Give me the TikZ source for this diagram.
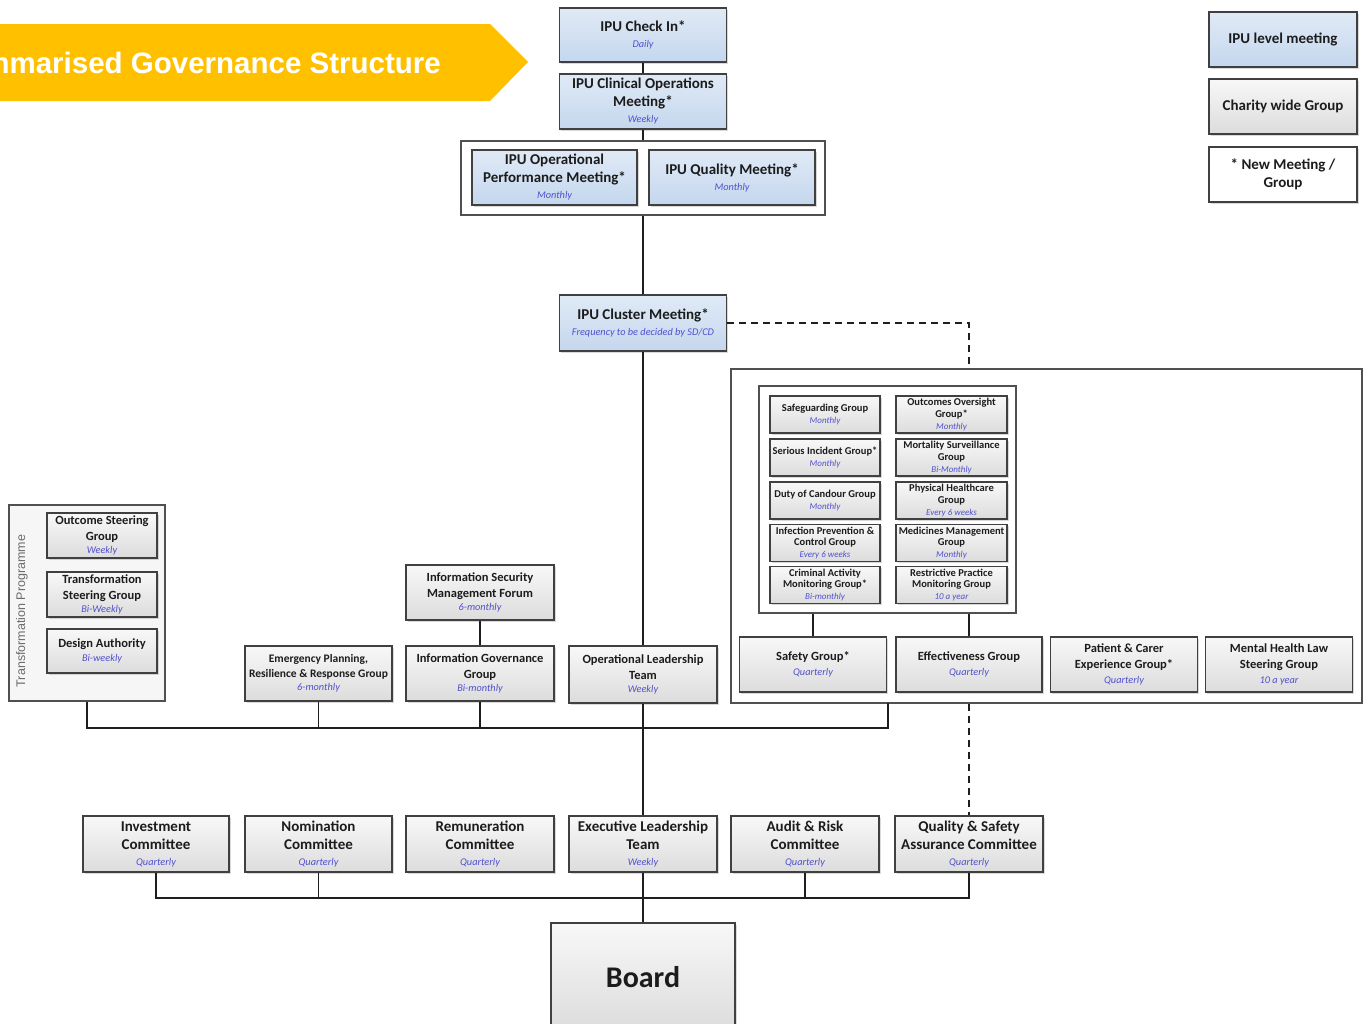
\documentclass[tikz,border=0pt]{standalone}
\usepackage{fontspec}
\setmainfont{Carlito}
\newfontfamily\arialf{Liberation Sans}
\usetikzlibrary{shadows}
\definecolor{ipuT}{RGB}{224,234,246}
\definecolor{ipuB}{RGB}{196,215,238}
\definecolor{cwT}{RGB}{248,248,248}
\definecolor{cwB}{RGB}{220,220,220}
\definecolor{boxline}{RGB}{64,64,64}
\definecolor{frameline}{RGB}{80,80,80}
\definecolor{linec}{RGB}{30,30,30}
\definecolor{txt}{RGB}{28,28,28}
\definecolor{freqc}{RGB}{80,80,205}
\definecolor{banner}{RGB}{255,192,0}
\definecolor{tpfill}{RGB}{246,246,246}
\newcommand\fq[1]{{\mdseries\itshape\fontsize{10.3}{11}\selectfont\color{freqc}#1}}
\newcommand\fqs[1]{{\mdseries\itshape\fontsize{9}{9.5}\selectfont\color{freqc}#1}}
\tikzset{
  base/.style={draw=boxline, line width=1.3pt, rectangle, align=center, inner sep=0pt,
    text=txt, font=\bfseries\fontsize{15}{18}\selectfont,
    drop shadow={shadow xshift=1.5pt, shadow yshift=-1.5pt, opacity=0.3, fill=gray}},
  ipu/.style={base, top color=ipuT, bottom color=ipuB},
  cw/.style={base, top color=cwT, bottom color=cwB},
  newg/.style={base, fill=white},
  midf/.style={font=\bfseries\fontsize{12.5}{15.5}\selectfont},
  smlf/.style={font=\bfseries\fontsize{10.5}{11.8}\selectfont},
  frame/.style={draw=frameline, line width=1.3pt, fill=white, rectangle, inner sep=0pt},
  link/.style={draw=linec, line width=1.5pt},
  dlink/.style={link, dash pattern=on 7pt off 5pt},
  sbox/.style={cw, smlf, minimum width=110, minimum height=37},
  mbox/.style={cw, midf, minimum width=147, minimum height=55},
  tbox/.style={cw, midf, minimum width=110, minimum height=45},
  bbox/.style={cw, minimum width=147, minimum height=56},
}
\begin{document}
\begin{tikzpicture}[x=1pt,y=-1pt]
\useasboundingbox (0,0) rectangle (1370,1023);
\clip (0,0) rectangle (1370,1023);

% title banner
\fill[banner] (-10,24) -- (490,24) -- (528,62) -- (490,101) -- (-10,101) -- cycle;
\node[anchor=base east, text=white, font=\arialf\bfseries\fontsize{29.5}{34}\selectfont, inner sep=0pt] (title) at (441,73) {Summarised Governance Structure};

% legend
\node[ipu, minimum width=148, minimum height=55] (lg1) at (1283,39.5) {IPU level meeting};
\node[cw, minimum width=148, minimum height=55] (lg2) at (1283,106.5) {Charity wide Group};
\node[newg, minimum width=148, minimum height=55] (lg3) at (1283,174.5) {* New Meeting /\\Group};

% IPU chain
\node[ipu, minimum width=167, minimum height=54] (ck) at (643,35) {IPU Check In*\\[-2pt]\fq{Daily}};
\node[ipu, minimum width=167, minimum height=55] (cop) at (643,101.5) {IPU Clinical Operations\\Meeting*\\[-2pt]\fq{Weekly}};
\node[frame, minimum width=364, minimum height=74] (tc) at (643,178) {};
\node[ipu, minimum width=165, minimum height=55] (opm) at (554.5,177.5) {IPU Operational\\Performance Meeting*\\[-2pt]\fq{Monthly}};
\node[ipu, minimum width=166, minimum height=55] (qm) at (732,177.5) {IPU Quality Meeting*\\[-2pt]\fq{Monthly}};
\node[ipu, minimum width=167, minimum height=56] (cl) at (643,323) {IPU Cluster Meeting*\\[-2pt]\fq{Frequency to be decided by SD/CD}};

% quality container
\node[frame, minimum width=631, minimum height=334] (qc) at (1046.5,536) {};
\node[frame, minimum width=257, minimum height=227] (ic) at (887.5,499.5) {};
\node[sbox] (sg)  at (825,414.5) {Safeguarding Group\\\fqs{Monthly}};
\node[sbox] (sig) at (825,457.5) {Serious Incident Group*\\\fqs{Monthly}};
\node[sbox] (dc)  at (825,500.5) {Duty of Candour Group\\\fqs{Monthly}};
\node[sbox] (ipc) at (825,543) {Infection Prevention \&\\Control Group\\\fqs{Every 6 weeks}};
\node[sbox] (cam) at (825,585) {Criminal Activity\\Monitoring Group*\\\fqs{Bi-monthly}};
\node[sbox, minimum width=111] (oog) at (951.5,414.5) {Outcomes Oversight\\Group*\\\fqs{Monthly}};
\node[sbox, minimum width=111] (msg) at (951.5,457.5) {Mortality Surveillance\\Group\\\fqs{Bi-Monthly}};
\node[sbox, minimum width=111] (phg) at (951.5,500.5) {Physical Healthcare\\Group\\\fqs{Every 6 weeks}};
\node[sbox, minimum width=111] (mmg) at (951.5,543) {Medicines Management\\Group\\\fqs{Monthly}};
\node[sbox, minimum width=111] (rpm) at (951.5,585) {Restrictive Practice\\Monitoring Group\\\fqs{10 a year}};
\node[mbox] (saf) at (813,664.5) {Safety Group*\\\fq{Quarterly}};
\node[mbox, minimum width=146] (eff) at (969,664.5) {Effectiveness Group\\\fq{Quarterly}};
\node[mbox] (pce) at (1124,664.5) {Patient \& Carer\\Experience Group*\\\fq{Quarterly}};
\node[mbox] (mhl) at (1279,664.5) {Mental Health Law\\Steering Group\\\fq{10 a year}};
\coordinate (qcb) at (888,703);

% transformation programme
\node[frame, fill=tpfill, minimum width=156, minimum height=196] (tp) at (87,603) {};
\node[rotate=90, font=\arialf\fontsize{12.5}{14}\selectfont, text=gray!85!black, inner sep=0pt] (tpl) at (22,611) {Transformation Programme};
\node[tbox] (osg) at (102,535.5) {Outcome Steering\\Group\\[-2pt]\fq{Weekly}};
\node[tbox] (tsg) at (102,594.5) {Transformation\\Steering Group\\[-2pt]\fq{Bi-Weekly}};
\node[tbox, minimum height=44] (da) at (102,651) {Design Authority\\[-2pt]\fq{Bi-weekly}};

% middle groups
\node[mbox, minimum width=148] (ismf) at (480,592.5) {Information Security\\Management Forum\\[-2pt]\fq{6-monthly}};
\node[mbox, font=\bfseries\fontsize{11.5}{15}\selectfont] (eprr) at (318.5,673.5) {Emergency Planning,\\Resilience \& Response Group\\[-2pt]\fq{6-monthly}};
\node[mbox, minimum width=148] (igg) at (480,673.5) {Information Governance\\Group\\[-2pt]\fq{Bi-monthly}};
\node[mbox, minimum width=148, minimum height=57] (olt) at (643,674.5) {Operational Leadership\\Team\\[-2pt]\fq{Weekly}};

% bottom committees
\node[bbox, minimum width=146] (inv) at (156,844) {Investment\\Committee\\[-2pt]\fq{Quarterly}};
\node[bbox] (nom) at (318.5,844) {Nomination\\Committee\\[-2pt]\fq{Quarterly}};
\node[bbox, minimum width=148] (rem) at (480,844) {Remuneration\\Committee\\[-2pt]\fq{Quarterly}};
\node[bbox, minimum width=148] (elt) at (643,844) {Executive Leadership\\Team\\[-2pt]\fq{Weekly}};
\node[bbox, minimum width=148] (ar) at (805,844) {Audit \& Risk\\Committee\\[-2pt]\fq{Quarterly}};
\node[bbox, minimum width=148] (qs) at (969,844) {Quality \& Safety\\Assurance Committee\\[-2pt]\fq{Quarterly}};
\node[cw, minimum width=184, minimum height=108, font=\bfseries\fontsize{30}{36}\selectfont] (bd) at (643,977) {Board};

% buses
\coordinate (bus) at (0,728);
\coordinate (bus2) at (0,898);

% connectors
\draw[link] (ck) -- (cop);
\draw[link] (cop) -- (tc);
\draw[link] (tc) -- (cl);
\draw[link] (cl) -- (olt);
\draw[link] (olt) -- (elt);
\draw[link] (elt) -- (bd);
\draw[dlink] (cl.east) -| (qc.north -| eff.north);
\draw[dlink] (qc.south -| qs.north) -- (qs.north);
\draw[link] (ic.south -| saf.north) -- (saf.north);
\draw[link] (ic.south -| eff.north) -- (eff.north);
\draw[link] (ismf) -- (igg);
\draw[link] (tp.south) |- (qcb |- bus) -- (qcb);
\draw[link] (eprr.south) -- (eprr.south |- bus);
\draw[link] (igg.south) -- (igg.south |- bus);
\draw[link] (inv.south) |- (qs.south |- bus2) -- (qs.south);
\draw[link] (nom.south) -- (nom.south |- bus2);
\draw[link] (ar.south) -- (ar.south |- bus2);
\end{tikzpicture}
\end{document}
